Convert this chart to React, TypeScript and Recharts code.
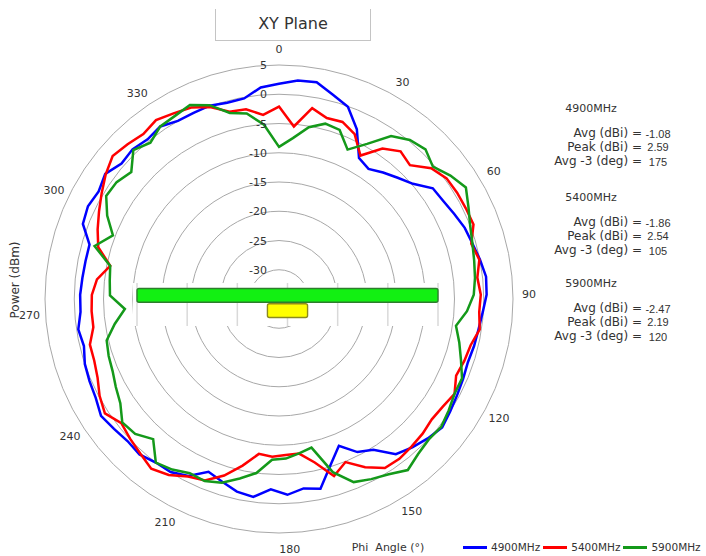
import React from 'react';
import {
  RadarChart,
  Radar,
  PolarGrid,
  PolarAngleAxis,
  PolarRadiusAxis,
  BarChart,
  Bar,
  XAxis,
  YAxis,
  CartesianGrid,
  Cell,
} from 'recharts';

// phi angle categories (0..360 every 5 deg, 73 points like the source sheet)
const angles = [
  0, 5, 10, 15, 20, 25, 30, 35, 40, 45, 50, 55, 60, 65, 70, 75, 80, 85, 90, 95,
  100, 105, 110, 115, 120, 125, 130, 135, 140, 145, 150, 155, 160, 165, 170, 175,
  180, 185, 190, 195, 200, 205, 210, 215, 220, 225, 230, 235, 240, 245, 250, 255,
  260, 265, 270, 275, 280, 285, 290, 295, 300, 305, 310, 315, 320, 325, 330, 335,
  340, 345, 350, 355, 360,
];

const p4900 = [
  1.8, 2.5, 2.6, 1.1, -0.1, -3.1, -7.3, -8.0, -7.0, -6.0,
  -4.8, -2.6, -2.3, -1.7, -1.0, -0.6, 0.0, 0.6, 0.5, -0.1,
  -0.5, -0.7, -0.95, -0.7, -0.4, 0.0, 0.5, -0.15, -0.9, -1.8,
  -4.6, -5.6, -7.9, -5.3, -1.8, -2.35, -1.5, -2.45, -0.9, -1.3,
  -2.3, -3.1, -1.0, -0.1, 0.0, 0.7, 0.5, 0.9, 1.4, 0.6,
  0.3, 0.0, -0.7, -0.3, -1.0, -1.0, -1.2, -1.3, -1.3, 0.9,
  1.3, 0.9, 1.6, 0.5, 0.8, 0.35, 0.8, 0.0, 0.0, 0.1,
  -0.3, -0.2, 1.3,
];

const p5400 = [
  -2.1, -5.4, -1.9, -3.0, -2.85, -4.0, -6.8, -3.8, -2.3, -3.0,
  -0.7, 0.3, 0.45, 0.5, 0.6, -0.8, -0.1, -0.9, -0.5, -0.7,
  -0.3, -1.3, -1.6, -2.0, -0.9, -1.5, -1.75, -1.35, -1.1, -0.8,
  -0.9, -2.7, -4.9, -3.3, -6.4, -8.35, -8.3, -8.0, -8.3, -5.85,
  -3.4, -1.5, -0.9, 0.5, 1.3, 0.5, -0.1, -0.7, 0.6, -0.15,
  -1.2, -1.7, -1.75, -2.9, -2.9, -3.0, -3.7, -5.6, -2.85, -1.8,
  -0.8, 0.3, 1.5, 2.5, 2.0, 1.5, 2.1, 1.5, 1.0, -0.15,
  -1.9, -2.1, -3.4,
];

const p5900 = [
  -9.0, -7.4, -5.2, -4.0, -4.3, -6.9, -4.5, -1.2, 0.2, 0.8,
  -0.3, 1.1, 2.2, 1.0, 0.0, -0.6, -1.0, -1.3, -1.7, -2.8,
  -4.4, -3.3, -2.2, -0.9, -0.9, -0.3, 0.3, 0.1, 0.6, 1.6,
  0.35, -0.4, -1.2, -4.0, -9.0, -8.4, -7.7, -7.5, -5.0, -3.6,
  -2.1, -1.4, -1.55, -0.6, 0.0, -2.8, -1.3, -0.9, -2.55, -3.3,
  -4.0, -4.3, -4.7, -6.6, -8.6, -6.1, -5.9, -5.6, -2.2, -4.6,
  -2.35, -0.6, -0.8, -1.7, 0.6, -0.4, 0.8, 1.0, 1.5, 0.2,
  -2.1, -2.8, -5.1,
];

const seriesNames = ['4900MHz', '5400MHz', '5900MHz'];
const seriesColors = ['#0000ff', '#ff0000', '#14991a'];

const statAvg = ['-1.08', '-1.86', '-2.47'];
const statPeak = ['2.59', '2.54', '2.19'];
const statAvg3 = ['175', '105', '120'];

// the little floating bar strip over the centre
const stripRows = ['bar', 'marker'];
const stripRanges = [[0, 6], [2.6, 3.4]];
const stripFills = ['#12f012', '#ffff00'];
const stripStrokes = ['#2d7d2d', '#8c8a1e'];
const stripTicks = [0, 1, 2, 3, 4, 5, 6];

const CX = 279;
const CY = 299;
const FONT = "'DejaVu Sans', 'Liberation Sans', sans-serif";
const VALFONT = "'Liberation Sans', Arial, sans-serif";
const TXT = '#333';

const data = angles.map((a, i) => ({
  angle: a,
  s0: p4900[i],
  s1: p5400[i],
  s2: p5900[i],
}));

const stripData = stripRows.map((r, i) => ({ row: r, range: stripRanges[i] }));

const AngleTick = (props: any) => {
  const { payload } = props;
  const v = Number(payload.value);
  if (v % 30 !== 0 || v === 360) return <g />;
  const a = (payload.coordinate * Math.PI) / 180;
  const R = 250;
  const x = CX + R * Math.cos(a);
  const y = CY - R * Math.sin(a);
  return (
    <text x={x} y={y} dy={4} textAnchor="middle" fontSize={11} fill={TXT} fontFamily={FONT}>
      {v}
    </text>
  );
};

const RadiusTick = (props: any) => {
  const { x, y, payload } = props;
  if (payload.value === -35) return <g />;
  return (
    <text x={x - 12} y={y} dy={4} textAnchor="end" fontSize={11} fill={TXT} fontFamily={FONT}>
      {payload.value}
    </text>
  );
};

const blockTop = [108, 197, 283];
const rowOffsets = [25, 39, 53];

export default function App() {
  return (
    <div
      style={{
        position: 'absolute',
        left: 0,
        top: 0,
        width: 706,
        height: 556,
        background: '#fff',
        fontFamily: FONT,
        overflow: 'hidden',
      }}
    >
      <RadarChart
        width={706}
        height={556}
        data={data}
        cx={CX}
        cy={CY}
        outerRadius={234}
        margin={{ top: 0, right: 0, bottom: 0, left: 0 }}
      >
        <PolarGrid gridType="circle" radialLines={false} stroke="#a8a8a8" strokeWidth={1} />
        <PolarAngleAxis dataKey="angle" tick={AngleTick} axisLine={false} tickLine={false} />
        <PolarRadiusAxis
          angle={90}
          type="number"
          domain={[-35, 5]}
          tickCount={9}
          axisLine={false}
          tickLine={false}
          tick={RadiusTick}
        />
        {seriesNames.map((n, i) => (
          <Radar
            key={n}
            name={n}
            dataKey={'s' + i}
            stroke={seriesColors[i]}
            strokeWidth={2.5}
            fill="none"
            fillOpacity={0}
            dot={false}
            isAnimationActive={false}
          />
        ))}
      </RadarChart>

      {/* white strip with bars */}
      <div style={{ position: 'absolute', left: 133, top: 283, width: 312, height: 43, background: '#fff' }}>
        <BarChart
          width={312}
          height={43}
          layout="vertical"
          data={stripData}
          margin={{ top: 0, right: 7, bottom: 0, left: 4 }}
        >
          <CartesianGrid horizontal={false} stroke="#d9d9d9" strokeWidth={1.5} />
          <XAxis type="number" domain={[0, 6]} ticks={stripTicks} hide />
          <YAxis type="category" dataKey="row" hide padding={{ top: 4.5, bottom: 8 }} />
          <Bar dataKey="range" barSize={16.5} radius={2} isAnimationActive={false}>
            {stripData.map((d, i) => (
              <Cell key={d.row} fill={stripFills[i]} stroke={stripStrokes[i]} strokeWidth={1.4} />
            ))}
          </Bar>
        </BarChart>
      </div>

      {/* title */}
      <div
        style={{
          position: 'absolute',
          left: 215,
          top: 9,
          width: 154,
          height: 31,
          borderLeft: '1px solid #c4c4c4',
          borderRight: '1px solid #c4c4c4',
          borderBottom: '1px solid #c4c4c4',
          textAlign: 'center',
          fontSize: 16,
          lineHeight: '29px',
          color: '#333',
        }}
      >
        XY Plane
      </div>

      <svg width={706} height={556} style={{ position: 'absolute', left: 0, top: 0, pointerEvents: 'none' }}>
        <text
          transform="translate(15,280) rotate(-90)"
          textAnchor="middle"
          dy={4}
          fontSize={12}
          fill={TXT}
          fontFamily={FONT}
        >
          Power (dBm)
        </text>
        <text x={388} y={551} textAnchor="middle" fontSize={11} fill={TXT} fontFamily={FONT} style={{ whiteSpace: 'pre' }}>
          {'Phi  Angle (°)'}
        </text>
        {seriesNames.map((n, i) => (
          <g key={n} fill={TXT}>
            <text x={591} y={blockTop[i]} dy={4} textAnchor="middle" fontFamily={FONT} fontSize={11}>
              {n}
            </text>
            <g fontFamily={FONT} fontSize={12}>
              <text x={642} y={blockTop[i] + rowOffsets[0]} dy={4} textAnchor="end">
                Avg (dBi) =
              </text>
              <text x={642} y={blockTop[i] + rowOffsets[1]} dy={4} textAnchor="end">
                Peak (dBi) =
              </text>
              <text x={642} y={blockTop[i] + rowOffsets[2]} dy={4} textAnchor="end">
                Avg -3 (deg) =
              </text>
            </g>
            <g fontFamily={VALFONT} fontSize={11}>
              <text x={658} y={blockTop[i] + rowOffsets[0] + 1} dy={4} textAnchor="middle">
                {statAvg[i]}
              </text>
              <text x={658} y={blockTop[i] + rowOffsets[1]} dy={4} textAnchor="middle">
                {statPeak[i]}
              </text>
              <text x={658} y={blockTop[i] + rowOffsets[2] + 1} dy={4} textAnchor="middle">
                {statAvg3[i]}
              </text>
            </g>
          </g>
        ))}
      </svg>

      {/* legend */}
      <div
        style={{
          position: 'absolute',
          left: 463,
          top: 541,
          display: 'flex',
          alignItems: 'center',
          fontSize: 10.5,
          color: TXT,
          whiteSpace: 'nowrap',
        }}
      >
        {seriesNames.map((n, i) => (
          <div key={n} style={{ display: 'flex', alignItems: 'center', marginRight: 3 }}>
            <span style={{ display: 'inline-block', width: 24, height: 3, background: seriesColors[i], marginRight: 4 }} />
            <span>{n}</span>
          </div>
        ))}
      </div>
    </div>
  );
}
